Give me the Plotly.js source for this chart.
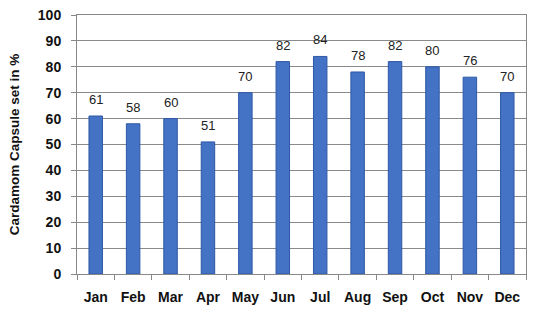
<!DOCTYPE html>
<html><head><meta charset="utf-8">
<script src="https://cdn.plot.ly/plotly-3.0.1.min.js"></script>
<style>html,body{margin:0;padding:0;background:#fff}#c{width:536px;height:313px}</style>
</head><body><div id="c"></div>
<script>
const months = ["Jan","Feb","Mar","Apr","May","Jun","Jul","Aug","Sep","Oct","Nov","Dec"];
const capsuleSet = [61,58,60,51,70,82,84,78,82,80,76,70];
const yTicks = [0,10,20,30,40,50,60,70,80,90,100];

const font = 'Liberation Sans, Arial, sans-serif';
const labels = months.map((m, i) => ({
  x: m, y: capsuleSet[i], xref: 'x', yref: 'y',
  text: String(capsuleSet[i]), showarrow: false,
  yanchor: 'bottom', yshift: 7,
  font: {family: font, size: 13, color: '#222'}
}));

Plotly.newPlot('c', [{
  type: 'bar',
  x: months,
  y: capsuleSet,
  marker: {color: '#4472C4', line: {color: '#2E58A6', width: 1}},
  width: 0.36
}], {
  width: 536, height: 313,
  margin: {l: 77, r: 10, t: 15, b: 39},
  paper_bgcolor: '#fff', plot_bgcolor: '#fff',
  showlegend: false,
  annotations: labels,
  xaxis: {
    tickfont: {family: font, size: 14, color: '#111', weight: 'bold'},
    showline: true, linecolor: '#888', linewidth: 1, mirror: true,
    ticks: 'outside', tickson: 'boundaries', ticklen: 5, tickcolor: '#888',
    ticklabelstandoff: 10,
    showgrid: false
  },
  yaxis: {
    range: [0, 100], tickvals: yTicks, ticktext: yTicks.map(String),
    tickfont: {family: font, size: 14, color: '#111', weight: 'bold'},
    showline: true, linecolor: '#888', linewidth: 1, mirror: true,
    ticks: 'outside', ticklen: 5, tickcolor: '#888',
    ticklabelstandoff: 7,
    showgrid: true, gridcolor: '#8a8a8a', gridwidth: 1,
    zeroline: false,
    title: {text: 'Cardamom Capsule set in %', standoff: 15,
      font: {family: font, size: 13.5, color: '#111', weight: 'bold'}}
  }
}, {displayModeBar: false, staticPlot: true});
</script></body></html>
